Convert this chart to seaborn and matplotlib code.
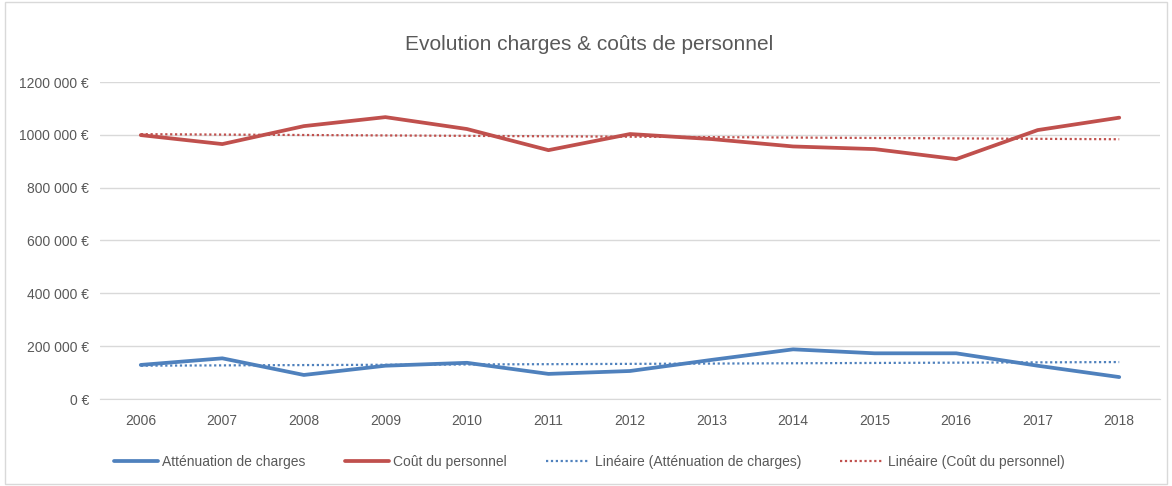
import numpy as np
import pandas as pd
import matplotlib
matplotlib.use('Agg')
import matplotlib.pyplot as plt
from matplotlib.patches import Rectangle
import seaborn as sns

# Data
YEARS = [2006, 2007, 2008, 2009, 2010, 2011, 2012, 2013, 2014, 2015, 2016, 2017, 2018]
ATTENUATION = [129000, 154000, 91000, 126000, 137000, 95000, 106000, 148000, 188000, 173000, 173000, 126000, 83000]
COUT_PERSONNEL = [999000, 965000, 1033000, 1067000, 1022000, 942000, 1003000, 984000, 956000, 946000, 908000, 1018000, 1065000]
Y_TICKS = [0, 200000, 400000, 600000, 800000, 1000000, 1200000]
Y_TICK_LABELS = ['0 €', '200 000 €', '400 000 €', '600 000 €', '800 000 €', '1000 000 €', '1200 000 €']
SERIES_NAMES = ['Atténuation de charges', 'Coût du personnel']

BLUE = '#4f81bd'
RED = '#c0504d'
TEXT = '#595959'
GRID = '#d9d9d9'

sns.set_style('white')
plt.rcParams['font.family'] = ['Liberation Sans Narrow', 'Liberation Sans', 'DejaVu Sans']

df = pd.DataFrame({
    'annee': YEARS * 2,
    'valeur': ATTENUATION + COUT_PERSONNEL,
    'serie': [SERIES_NAMES[0]] * len(YEARS) + [SERIES_NAMES[1]] * len(YEARS),
})

fig = plt.figure(figsize=(11.72, 4.86), dpi=100)
ax = fig.add_axes([100 / 1172, 1 - 399 / 486, 1060 / 1172, 317 / 486])

sns.lineplot(data=df, x='annee', y='valeur', hue='serie',
             palette=[BLUE, RED], linewidth=2.7, ax=ax, legend=False)

# linear trend lines
for name, color in zip(SERIES_NAMES, [BLUE, RED]):
    sub = df[df['serie'] == name]
    sns.regplot(data=sub, x='annee', y='valeur', scatter=False, ci=None,
                truncate=True, ax=ax, color=color,
                line_kws={'linestyle': (0, (1, 1.2)), 'linewidth': 1.6})

ax.set_xlim(YEARS[0] - 0.5, YEARS[-1] + 0.5)
ax.set_ylim(0, 1200000)
ax.set_xticks(YEARS)
ax.set_xticklabels([str(y) for y in YEARS])
ax.set_yticks(Y_TICKS)
ax.set_yticklabels(Y_TICK_LABELS)
ax.set_xlabel('')
ax.set_ylabel('')
ax.tick_params(axis='both', length=0, labelsize=10, labelcolor=TEXT)
ax.tick_params(axis='x', pad=11)
ax.tick_params(axis='y', pad=8)
ax.grid(axis='y', color=GRID, linewidth=1)
ax.set_axisbelow(True)
for side in ['top', 'right', 'left']:
    ax.spines[side].set_visible(False)
ax.spines['bottom'].set_color(GRID)

fig.text(0.503, 1 - 44 / 486, 'Evolution charges & coûts de personnel',
         ha='center', va='center', fontsize=15, color=TEXT)

handles = ax.get_lines()
labels = ['Atténuation de charges', 'Coût du personnel',
          'Linéaire (Atténuation de charges)', 'Linéaire (Coût du personnel)']
fig.legend(handles[:4], labels, loc='center', bbox_to_anchor=(0.503, 1 - 462 / 486),
           ncol=4, frameon=False, fontsize=10, labelcolor=TEXT,
           handlelength=3.2, columnspacing=2.8, handletextpad=0.3)

fig.add_artist(Rectangle((0.004, 0.004), 0.992, 0.992, transform=fig.transFigure,
                         fill=False, edgecolor=GRID, linewidth=1))

fig.savefig('out.png', dpi=100)
